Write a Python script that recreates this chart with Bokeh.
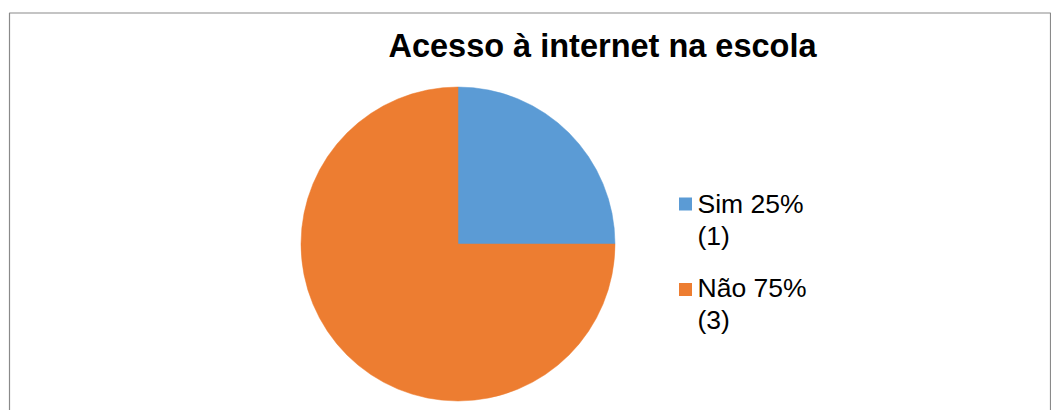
import numpy as np
from bokeh.plotting import figure
from bokeh.models import Range1d, ColumnDataSource
from bokeh.core.properties import value
from bokeh.embed import file_html
from bokeh.resources import INLINE

title = "Acesso à internet na escola"
categories = ["Sim", "Não"]
counts = [1, 3]
colors = ["#5B9BD5", "#ED7D31"]

W, H = 1051, 410
p = figure(width=W, height=H, output_backend="svg", toolbar_location=None,
           x_range=Range1d(0, W), y_range=Range1d(0, H), min_border=0)
p.axis.visible = False
p.grid.visible = False
p.outline_line_color = None
p.background_fill_color = "white"
p.border_fill_color = "white"

# chart frame
p.quad(left=[9], right=[1050], top=[H - 12.5], bottom=[-20], fill_color=None,
       line_color="#8A8A8A", line_width=1.2)

total = sum(counts)
fracs = np.array(counts) / total
cum = np.concatenate([[0], np.cumsum(fracs)])
start = np.pi / 2 - 2 * np.pi * cum[1:]
end = np.pi / 2 - 2 * np.pi * cum[:-1]
cx, cy, r = 457.5, H - 243.5, 157
src = ColumnDataSource(dict(start=start, end=end, color=colors))
p.wedge(x=cx, y=cy, radius=r, start_angle="start", end_angle="end",
        fill_color="color", line_color="color", line_width=0.5, source=src)

# title
p.text(x=[602], y=[H - 45], text=[title], text_font=value("Liberation Sans"),
       text_font_style="bold", text_font_size="32.5px", text_color="black",
       text_align="center", text_baseline="alphabetic")

# legend
pcts = [int(round(f * 100)) for f in fracs]
line1 = [f"{c} {pc}%" for c, pc in zip(categories, pcts)]
line2 = [f"({n})" for n in counts]
sq_y = [203.5, 289]
txt_y = [203, 287]
for i in range(len(categories)):
    p.rect(x=[685], y=[H - sq_y[i]], width=13, height=13, fill_color=colors[i], line_color=None)
    p.text(x=[697], y=[H - txt_y[i]], text=[line1[i]], text_font=value("Liberation Sans"),
           text_font_size="26.5px", text_color="black", text_baseline="alphabetic")
    p.text(x=[697], y=[H - txt_y[i] - 32], text=[line2[i]], text_font=value("Liberation Sans"),
           text_font_size="26.5px", text_color="black", text_baseline="alphabetic")

open("out.html", "w").write(file_html(p, INLINE))
